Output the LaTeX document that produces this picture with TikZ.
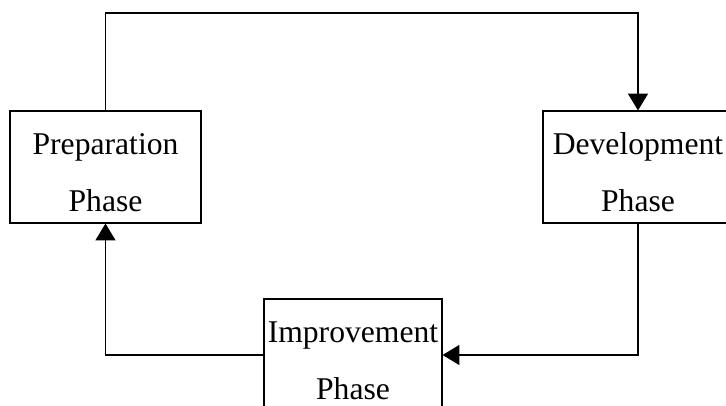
\documentclass[tikz,border=0pt]{standalone}
\usepackage{fontspec}
\setmainfont{Liberation Serif}
\usetikzlibrary{arrows.meta}
\usetikzlibrary{calc}
\newcommand{\phtop}{\rule{0pt}{0.8cm}}

\begin{document}
\begin{tikzpicture}[x=0.025cm,y=-0.025cm,
    phase/.style={draw,line width=0.8pt,minimum width=#1*0.025cm,minimum height=112*0.025cm,
      align=center,inner sep=0pt,font=\fontsize{22.5}{40.5}\selectfont},
    flow/.style={line width=0.8pt,-{Triangle[length=0.42cm,width=0.5cm]}}]
        \clip (0,0) rectangle (726,406);
        \fill[white] (0,0) rectangle (726,406);
		\node[phase=191] (prep) at (105.5,167) {\phtop Preparation\\Phase};
		\node[phase=190] (dev) at (638,167) {\phtop Development\\Phase};
		\node[phase=178] (imp) at (353,355) {\phtop Improvement\\Phase};
		\coordinate (top) at (105.5,13);
		\draw[flow] (prep.north) -- (top) -| (dev.north);
		\draw[flow] (dev.south) |- (imp.east);
		\draw[flow] (imp.west) -| (prep.south);
\end{tikzpicture}
\end{document}
